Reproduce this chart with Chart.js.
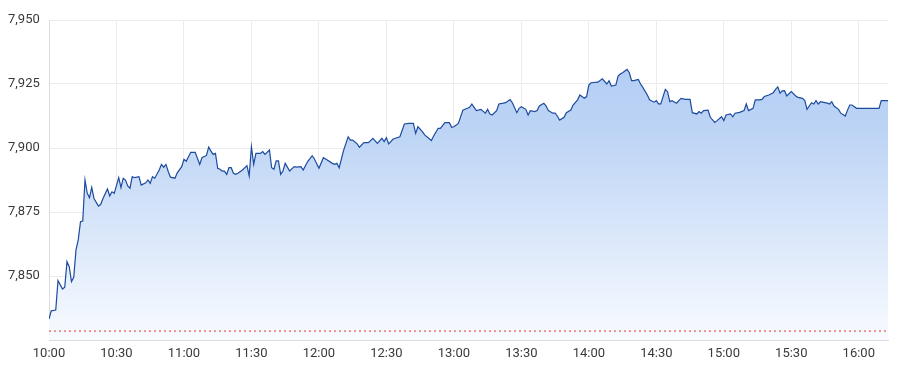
<!DOCTYPE html>
<html>
<head>
<meta charset="utf-8">
<script src="https://cdn.jsdelivr.net/npm/chart.js@4/dist/chart.umd.min.js"></script>
<style>
  html, body { margin: 0; padding: 0; background: #fff; }
  #wrap { width: 900px; height: 375px; }
</style>
</head>
<body>
<div id="wrap"><canvas id="chart"></canvas></div>
<script>
// minutes after the 10:00 open
const minutes = [
  0, 1, 3, 4, 6, 7, 8, 9, 10, 11, 12, 13, 14, 15, 16, 17, 18, 19, 20, 22,
  23, 24, 26, 27, 28, 29, 31, 32, 33, 34, 35, 36, 37, 38, 40, 41, 43, 44, 45, 46,
  47, 49, 50, 51, 52, 53, 54, 56, 57, 59, 60, 61, 63, 65, 67, 68, 70, 71, 72, 73,
  74, 75, 76, 77, 78, 79, 80, 81, 82, 83, 84, 86, 88, 89, 90, 91, 92, 94, 95, 96,
  98, 99, 100, 101, 102, 103, 104, 105, 107, 109, 110, 112, 113, 115, 117, 118, 120, 122, 123, 126,
  127, 128, 129, 131, 133, 134, 135, 137, 138, 140, 142, 144, 146, 148, 149, 150, 151, 153, 154, 156,
  158, 160, 162, 163, 164, 166, 167, 170, 171, 173, 174, 176, 178, 179, 180, 182, 184, 186, 187, 188,
  189, 190, 192, 194, 195, 196, 197, 199, 200, 202, 203, 205, 206, 208, 209, 210, 212, 213, 214, 216,
  217, 218, 220, 221, 222, 224, 225, 226, 227, 229, 230, 232, 233, 235, 236, 238, 239, 240, 241, 244,
  246, 248, 249, 250, 252, 253, 254, 255, 257, 258, 259, 260, 262, 263, 264, 266, 267, 269, 270, 271,
  272, 274, 275, 276, 277, 279, 280, 281, 283, 285, 286, 288, 289, 290, 291, 293, 294, 296, 297, 299,
  300, 301, 303, 304, 305, 307, 309, 310, 311, 313, 314, 316, 317, 318, 320, 322, 323, 324, 325, 326,
  327, 328, 330, 332, 333, 335, 336, 337, 338, 339, 340, 341, 342, 343, 345, 346, 347, 348, 349, 351,
  352, 354, 355, 356, 357, 359, 369, 370, 373
];

const prices = [
  7833.2, 7836.4, 7836.7, 7848.2, 7844.9, 7845.6, 7855.6, 7853.6, 7847.8, 7849.5, 7860.2, 7864.1, 7871.2, 7871.5, 7887.5, 7882.3, 7880.6, 7884.6, 7880.3, 7877.3,
  7878.0, 7880.3, 7884.0, 7881.3, 7882.9, 7882.3, 7888.4, 7884.5, 7888.2, 7887.5, 7885.2, 7884.3, 7888.8, 7888.4, 7888.8, 7885.5, 7886.4, 7887.5, 7886.2, 7888.8,
  7888.2, 7891.4, 7893.6, 7892.5, 7893.6, 7890.8, 7888.6, 7888.2, 7890.3, 7892.7, 7895.6, 7894.8, 7898.3, 7898.3, 7893.6, 7896.2, 7897.1, 7900.4, 7898.8, 7897.5,
  7897.9, 7892.1, 7891.7, 7891.0, 7891.0, 7889.7, 7892.3, 7892.3, 7890.1, 7889.7, 7890.1, 7891.4, 7893.1, 7889.1, 7900.5, 7893.6, 7897.9, 7897.9, 7898.6, 7897.5,
  7899.2, 7892.3, 7891.7, 7895.0, 7895.0, 7889.7, 7891.0, 7894.0, 7891.0, 7892.7, 7892.5, 7892.7, 7891.4, 7894.7, 7897.0, 7895.7, 7892.1, 7896.2, 7895.7, 7894.0,
  7893.6, 7894.0, 7892.3, 7899.2, 7904.4, 7903.1, 7903.1, 7901.6, 7900.3, 7902.1, 7902.1, 7903.8, 7901.8, 7903.8, 7902.5, 7904.0, 7901.6, 7903.5, 7903.8, 7904.4,
  7909.4, 7909.6, 7909.6, 7905.7, 7908.3, 7906.4, 7905.1, 7902.9, 7904.7, 7907.7, 7907.7, 7909.9, 7909.9, 7908.1, 7908.3, 7909.6, 7914.8, 7915.5, 7915.9, 7917.2,
  7915.9, 7914.6, 7915.1, 7913.6, 7915.1, 7913.3, 7912.9, 7914.6, 7917.2, 7917.5, 7917.7, 7918.9, 7917.7, 7913.8, 7915.5, 7916.1, 7915.1, 7912.9, 7914.6, 7914.2,
  7914.6, 7916.4, 7917.5, 7916.4, 7914.6, 7913.6, 7913.6, 7912.5, 7910.9, 7912.0, 7913.8, 7914.8, 7916.8, 7918.8, 7920.7, 7919.4, 7920.1, 7924.6, 7925.5, 7925.7,
  7927.0, 7925.0, 7926.3, 7924.2, 7924.6, 7928.1, 7928.9, 7929.4, 7930.7, 7929.4, 7926.3, 7926.3, 7926.8, 7925.0, 7923.7, 7920.7, 7918.8, 7917.9, 7918.5, 7917.2,
  7917.2, 7922.9, 7922.0, 7918.1, 7918.5, 7917.5, 7918.5, 7919.4, 7919.0, 7919.0, 7913.8, 7913.3, 7914.2, 7913.6, 7914.6, 7914.8, 7912.0, 7910.0, 7910.7, 7912.2,
  7910.7, 7912.9, 7913.3, 7912.2, 7913.6, 7913.9, 7914.6, 7917.2, 7914.6, 7915.5, 7918.8, 7918.8, 7919.0, 7920.1, 7920.7, 7921.6, 7922.9, 7923.9, 7921.4, 7922.3,
  7922.4, 7920.3, 7922.0, 7920.3, 7919.8, 7919.4, 7918.5, 7915.1, 7916.4, 7917.7, 7917.2, 7918.5, 7917.2, 7918.1, 7917.7, 7917.5, 7917.2, 7918.1, 7916.4, 7915.1,
  7913.6, 7912.5, 7914.8, 7916.8, 7916.8, 7915.5, 7915.5, 7918.5, 7918.5
];

const previousClose = 7828.5;
const sessionEnd = 373;   // 16:13
const yMin = 7825;
const yMax = 7950;

function fmtTime(m) {
  const h = 10 + Math.floor(m / 60);
  const mm = m % 60;
  return h + ':' + (mm < 10 ? '0' : '') + mm;
}

const points = minutes.map((m, i) => ({ x: m, y: prices[i] }));

const ctx = document.getElementById('chart').getContext('2d');
new Chart(ctx, {
  type: 'line',
  data: {
    datasets: [{
      data: points,
      order: 2,
      borderColor: '#1d4b9e',
      borderWidth: 1.2,
      pointRadius: 0,
      tension: 0,
      fill: 'start',
      backgroundColor: (c) => {
        const area = c.chart.chartArea;
        if (!area) return 'rgba(180,205,243,0.8)';
        const g = c.chart.ctx.createLinearGradient(0, area.top, 0, area.bottom);
        g.addColorStop(0, '#adc9f2');
        g.addColorStop(0.35, '#bdd4f5');
        g.addColorStop(1, '#f8fbff');
        return g;
      }
    }, {
      // previous close reference line
      data: [{ x: 0, y: previousClose }, { x: sessionEnd, y: previousClose }],
      order: 1,
      borderColor: '#f0302a',
      borderWidth: 1,
      borderDash: [2, 3],
      pointRadius: 0,
      fill: false
    }]
  },
  options: {
    responsive: true,
    maintainAspectRatio: false,
    animation: false,
    layout: { padding: { left: 8, right: 12, top: 20, bottom: 0 } },
    plugins: { legend: { display: false }, tooltip: { enabled: false } },
    scales: {
      x: {
        type: 'linear',
        min: 0,
        max: sessionEnd,
        grid: { color: '#ececec', drawTicks: false },
        border: { color: '#dcdcdc' },
        ticks: {
          stepSize: 30,
          includeBounds: false,
          padding: 6,
          maxRotation: 0,
          color: '#3a3a3a',
          font: { family: 'Roboto', size: 13 },
          callback: (v) => fmtTime(v)
        },
        afterFit: (s) => { s.height = 35; }
      },
      y: {
        min: yMin,
        max: yMax,
        grid: { color: '#ececec', drawTicks: false },
        border: { color: '#dcdcdc' },
        ticks: {
          stepSize: 25,
          crossAlign: 'far',
          color: '#3a3a3a',
          font: { family: 'Roboto', size: 13 },
          callback: (v) => v === yMin ? '' : v.toLocaleString('en-US')
        },
        afterFit: (s) => { s.width = 41; }
      }
    }
  }
});
</script>
</body>
</html>
